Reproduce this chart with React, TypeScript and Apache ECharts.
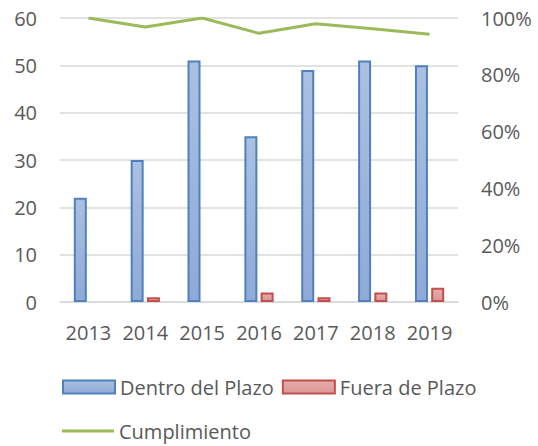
import React, { useEffect, useRef } from "react";
import * as echarts from "echarts";

const categories = ["2013", "2014", "2015", "2016", "2017", "2018", "2019"];
const dentro = [22, 30, 51, 35, 49, 51, 50];
const fuera = [0, 1, 0, 2, 1, 2, 3];
const cumplimiento = [1.0, 0.968, 1.0, 0.946, 0.98, 0.962, 0.943];

const FONT = "Open Sans";
const GRAY = "#595959";
const FS = 20;

const toBarData = (arr: number[]) =>
  arr.map((v) => (v === 0 ? { value: 0, itemStyle: { borderWidth: 0, opacity: 0 } } : v));

export default function App() {
  const ref = useRef<HTMLDivElement>(null);
  useEffect(() => {
    if (!ref.current) return;
    const chart = echarts.init(ref.current, null, { renderer: "svg" });
    chart.setOption({
      animation: false,
      textStyle: { fontFamily: FONT, color: GRAY },
      grid: { left: 60, right: 80, top: 18, bottom: 144 },
      legend: [
        {
          data: [
            { name: "Dentro del Plazo", icon: "rect" },
            { name: "Fuera de Plazo", icon: "rect" },
          ],
          left: 57,
          top: 372,
          itemWidth: 52,
          itemHeight: 13,
          itemGap: 8,
          textStyle: { fontFamily: FONT, fontSize: FS, color: GRAY, lineHeight: 20 },
        },
        {
          data: [{ name: "Cumplimiento", icon: "rect", itemStyle: { color: "#9bbb59" } }],
          left: 57,
          top: 416,
          itemWidth: 52,
          itemHeight: 3,
          textStyle: { fontFamily: FONT, fontSize: FS, color: GRAY, lineHeight: 20 },
        },
      ],
      xAxis: {
        type: "category",
        data: categories,
        axisLine: { lineStyle: { color: "#d9d9d9", width: 1.5 } },
        axisTick: { show: false },
        axisLabel: { fontFamily: FONT, fontSize: FS, color: GRAY, margin: 20, interval: 0 },
      },
      yAxis: [
        {
          type: "value",
          min: 0,
          max: 60,
          interval: 10,
          axisLine: { show: false },
          axisTick: { show: false },
          splitLine: { lineStyle: { color: "#d9d9d9", width: 1.5 } },
          axisLabel: { fontFamily: FONT, fontSize: FS, color: GRAY, margin: 23 },
        },
        {
          type: "value",
          min: 0,
          max: 1,
          interval: 0.2,
          axisLine: { show: false },
          axisTick: { show: false },
          splitLine: { show: false },
          axisLabel: {
            fontFamily: FONT,
            fontSize: FS,
            color: GRAY,
            margin: 23,
            formatter: (v: number) => Math.round(v * 100) + "%",
          },
        },
      ],
      series: [
        {
          name: "Dentro del Plazo",
          type: "bar",
          data: toBarData(dentro),
          barWidth: 13,
          barGap: "25%",
          itemStyle: {
            color: new echarts.graphic.LinearGradient(0, 0, 0, 1, [
              { offset: 0, color: "#abc0e2" },
              { offset: 1, color: "#8faad7" },
            ]),
            borderColor: "#4f81bd",
            borderWidth: 2,
          },
        },
        {
          name: "Fuera de Plazo",
          type: "bar",
          data: toBarData(fuera),
          barWidth: 13,
          itemStyle: {
            color: new echarts.graphic.LinearGradient(0, 0, 0, 1, [
              { offset: 0, color: "#e5acab" },
              { offset: 1, color: "#d99896" },
            ]),
            borderColor: "#c0504d",
            borderWidth: 2,
          },
        },
        {
          name: "Cumplimiento",
          type: "line",
          yAxisIndex: 1,
          data: cumplimiento,
          showSymbol: false,
          symbol: "none",
          lineStyle: { color: "#9bbb59", width: 3 },
          itemStyle: { color: "#9bbb59" },
        },
      ],
    });
    return () => chart.dispose();
  }, []);
  return <div ref={ref} style={{ width: 538, height: 446, position: "absolute", left: 0, top: 0 }} />;
}
